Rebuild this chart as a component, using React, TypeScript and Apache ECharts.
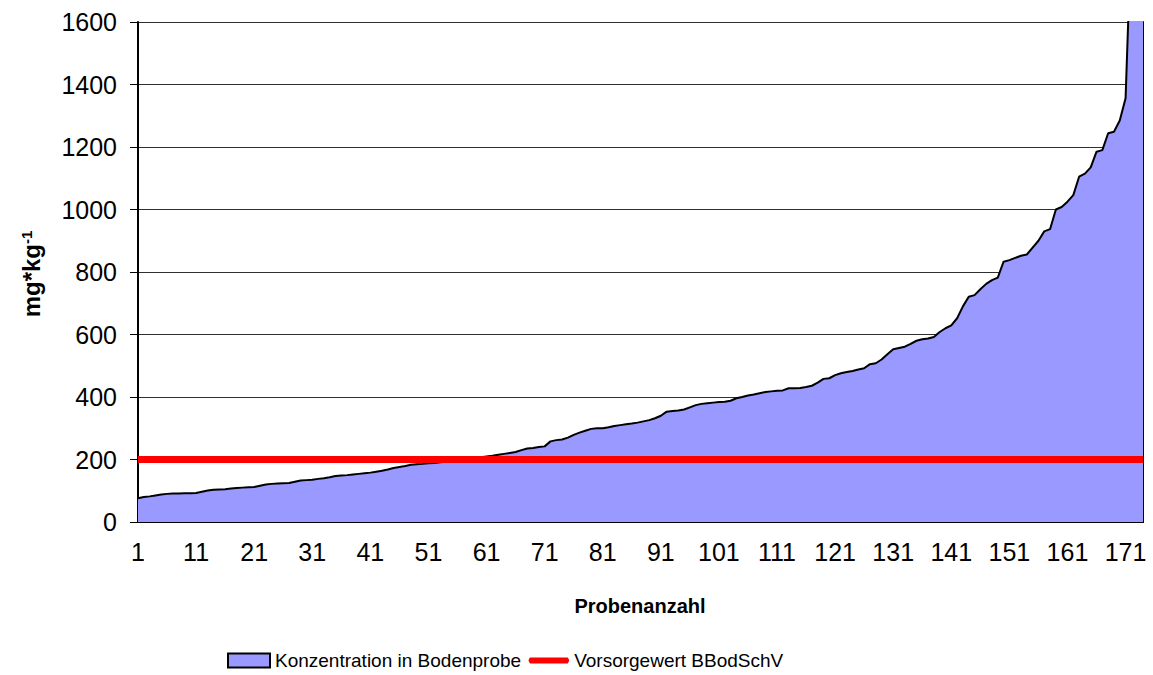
import React, { useEffect, useRef } from "react";
import * as echarts from "echarts";

const concentration: number[] = [
  76, 80, 82, 85, 88, 90, 91, 91, 92, 92,
  93, 97, 101, 103, 104, 105, 107, 109, 110, 111,
  112, 116, 120, 122, 123, 124, 125, 129, 133, 134,
  135, 138, 140, 143, 147, 149, 150, 152, 154, 156,
  158, 161, 164, 168, 173, 176, 179, 183, 185, 186,
  188, 189, 191, 193, 195, 197, 199, 201, 204, 207,
  210, 212, 215, 218, 221, 224, 230, 235, 237, 240,
  242, 258, 262, 264, 270, 279, 286, 292, 298, 300,
  300, 303, 307, 310, 313, 315, 318, 322, 326, 332,
  340, 353, 355, 357, 360, 367, 374, 378, 380, 382,
  384, 385, 388, 396, 400, 405, 408, 412, 416, 418,
  420, 421, 428, 428, 429, 432, 436, 446, 458, 460,
  470, 476, 480, 483, 488, 492, 505, 508, 520, 537,
  553, 557, 561, 570, 580, 585, 587, 592, 608, 620,
  629, 652, 690, 721, 726, 745, 762, 774, 782, 833,
  838, 845, 852, 856, 878, 900, 930, 937, 1000, 1008,
  1025, 1046, 1105, 1115, 1135, 1185, 1190, 1244, 1249, 1285,
  1356, 1900, 2300, 2800,
];
const categories: string[] = concentration.map((_, i) => String(i + 1));
const thresholdValue = 200;
const threshold: number[] = categories.map(() => thresholdValue);
const yTicks = { min: 0, max: 1600, interval: 200 };
const seriesNames = ["Konzentration in Bodenprobe", "Vorsorgewert BBodSchV"];
const xAxisTitle = "Probenanzahl";

const FONT = "'Liberation Sans', Arial, sans-serif";
const RED_LINE_ICON =
  "path://M0,0 L0.01,0 Z M3,4 L42,4 Q45,7 42,10 L3,10 Q0,7 3,4 Z M0,14 L0.01,14 Z";

export default function App() {
  const ref = useRef<HTMLDivElement>(null);
  useEffect(() => {
    if (!ref.current) return;
    const chart = echarts.init(ref.current, undefined, { renderer: "svg" });
    chart.setOption({
      animation: false,
      backgroundColor: "#ffffff",
      textStyle: { fontFamily: FONT },
      grid: { left: 138, right: 10, top: 22, bottom: 153, containLabel: false },
      legend: {
        top: 651,
        left: 227,
        padding: 0,
        itemWidth: 42,
        itemHeight: 14,
        itemGap: 6,
        textStyle: { fontSize: 19, color: "#000", fontFamily: FONT },
        data: [
          {
            name: seriesNames[0],
            icon: "rect",
            itemStyle: { color: "#9999FF", borderColor: "#000", borderWidth: 2 },
          },
          {
            name: seriesNames[1],
            icon: RED_LINE_ICON,
            itemStyle: { color: "#FF0000", borderWidth: 0 },
          },
        ],
      },
      xAxis: {
        type: "category",
        data: categories,
        boundaryGap: false,
        axisLine: { show: true, lineStyle: { color: "#000", width: 2 } },
        axisTick: { show: false },
        axisLabel: {
          interval: 9,
          margin: 17,
          fontSize: 25,
          color: "#000",
          fontFamily: FONT,
        },
        splitLine: { show: false },
      },
      yAxis: [
        {
          type: "value",
          min: yTicks.min,
          max: yTicks.max,
          interval: yTicks.interval,
          axisLine: { show: true, lineStyle: { color: "#000", width: 2 } },
          axisTick: { show: true, length: 8, lineStyle: { color: "#000" } },
          axisLabel: {
            margin: 21,
            fontSize: 25,
            color: "#000",
            fontFamily: FONT,
            formatter: (v: number) => String(v),
          },
          splitLine: { show: true, lineStyle: { color: "#303030", width: 1 } },
        },
        {
          type: "value",
          position: "right",
          min: yTicks.min,
          max: yTicks.max,
          interval: yTicks.interval,
          axisLine: { show: true, lineStyle: { color: "#000", width: 2 } },
          axisTick: { show: false },
          axisLabel: { show: false },
          splitLine: { show: false },
        },
      ],
      graphic: [
        {
          type: "text",
          x: 640,
          y: 606,
          style: {
            text: xAxisTitle,
            font: `bold 20px ${FONT}`,
            fill: "#000",
            align: "center",
            verticalAlign: "middle",
          },
        },
        {
          type: "text",
          x: 31,
          y: 274,
          rotation: Math.PI / 2,
          style: {
            text: "mg*kg{sup|-1}",
            font: `bold 24px ${FONT}`,
            fill: "#000",
            align: "center",
            verticalAlign: "middle",
            rich: {
              sup: { fontSize: 15, fontWeight: "bold", verticalAlign: "top", fontFamily: FONT, fill: "#000" },
            },
          },
        },
      ],
      series: [
        {
          name: seriesNames[0],
          type: "line",
          data: concentration,
          symbol: "none",
          showSymbol: false,
          clip: true,
          itemStyle: { color: "#9999FF" },
          lineStyle: { color: "#000", width: 2 },
          areaStyle: { color: "#9999FF", opacity: 1 },
          z: 2,
        },
        {
          name: seriesNames[1],
          type: "line",
          data: threshold,
          symbol: "none",
          showSymbol: false,
          itemStyle: { color: "#FF0000" },
          lineStyle: { color: "#FF0000", width: 7 },
          z: 3,
        },
      ],
    });
    return () => chart.dispose();
  }, []);
  return (
    <div
      ref={ref}
      style={{ position: "absolute", left: 0, top: 0, width: 1153, height: 675 }}
    />
  );
}
